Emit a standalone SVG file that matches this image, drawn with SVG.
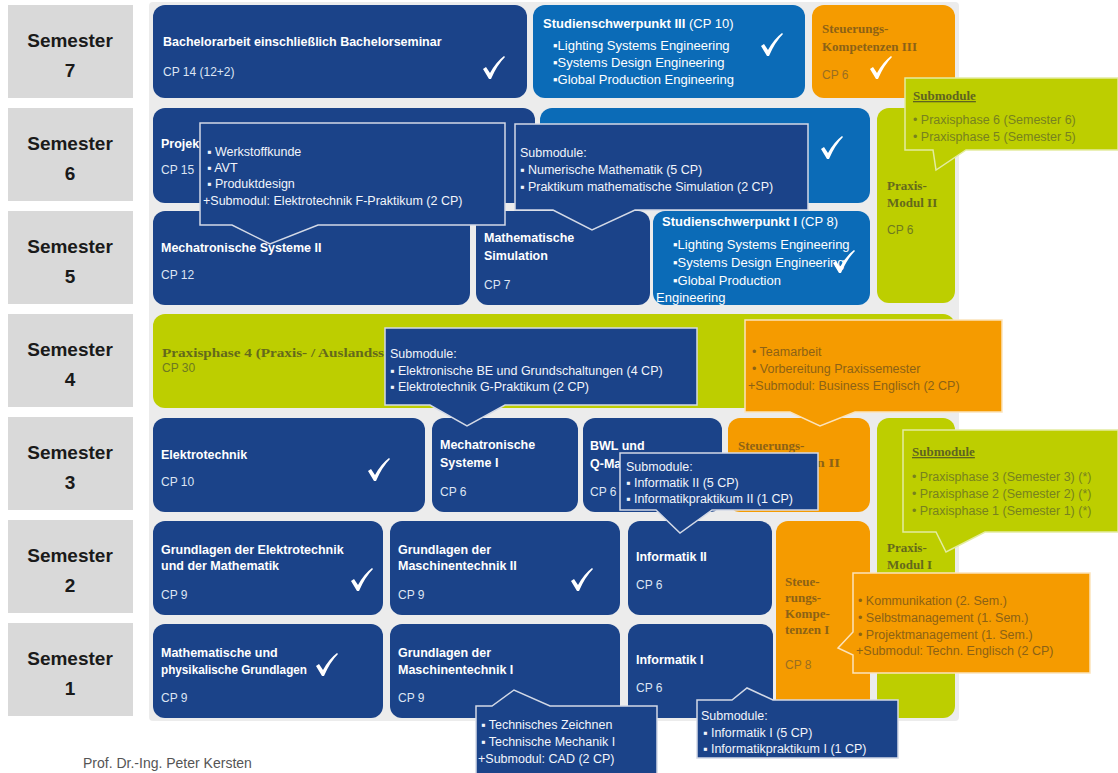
<svg xmlns="http://www.w3.org/2000/svg" width="1118" height="773" viewBox="0 0 1118 773">
<style>
.navy{fill:#1b4389}
.blue{fill:#0b6bb7}
.orange{fill:#f59b00}
.green{fill:#bdce00}
.lbl{fill:#d9d9d9}
.back{fill:#ececec}
.t{font:bold 12.5px 'Liberation Sans',Arial,sans-serif;fill:#ffffff}
.cp{font:12px 'Liberation Sans',Arial,sans-serif;fill:#dde5f3}
.sb{font:13px 'Liberation Sans',Arial,sans-serif;fill:#ffffff}
.st{font:bold 19px 'Liberation Sans',Arial,sans-serif;fill:#1a1a1a;text-anchor:middle}
.ot{font:bold 13px 'Liberation Serif','Times New Roman',serif;fill:#8c6216}
.ocp{font:12px 'Liberation Sans',Arial,sans-serif;fill:#9a6e22}
.gt{font:bold 13px 'Liberation Serif','Times New Roman',serif;fill:#64691c}
.gcp{font:12px 'Liberation Sans',Arial,sans-serif;fill:#6e7a20}
.ct{font:12.5px 'Liberation Sans',Arial,sans-serif;fill:#f2f5fb}
.oct{font:12.5px 'Liberation Sans',Arial,sans-serif;fill:#8c6216}
.gct{font:12.5px 'Liberation Sans',Arial,sans-serif;fill:#77821f}
.gh{font:bold 13px 'Liberation Serif','Times New Roman',serif;fill:#5f6420;text-decoration:underline}
.cn{fill:#1b4389;stroke:#d3d9e6;stroke-width:1.5}
.co{fill:#f59b00;stroke:#fbe3bb;stroke-width:1.5}
.cg{fill:#bdce00;stroke:#e3eca0;stroke-width:1.5}
.auth{font:14px 'Liberation Sans',Arial,sans-serif;fill:#555555}
</style>
<defs>
<path id="chk" d="M2,13 L5,11 L9,17 Q15,6 23,0 L24,1 Q16,9 10,23 L8,23 Z" fill="#ffffff"/>
</defs>
<rect width="1118" height="773" fill="#ffffff"/>
<rect class="back" x="149" y="2" width="810" height="719" rx="4"/>

<g id="semester-labels">
<g id="sem7"><rect class="lbl" x="8" y="5" width="125" height="93"/><text class="st" x="70" y="47">Semester</text><text class="st" x="70" y="77">7</text></g>
<g id="sem6"><rect class="lbl" x="8" y="108" width="125" height="93"/><text class="st" x="70" y="150">Semester</text><text class="st" x="70" y="180">6</text></g>
<g id="sem5"><rect class="lbl" x="8" y="211" width="125" height="93"/><text class="st" x="70" y="253">Semester</text><text class="st" x="70" y="283">5</text></g>
<g id="sem4"><rect class="lbl" x="8" y="314" width="125" height="93"/><text class="st" x="70" y="356">Semester</text><text class="st" x="70" y="386">4</text></g>
<g id="sem3"><rect class="lbl" x="8" y="417" width="125" height="93"/><text class="st" x="70" y="459">Semester</text><text class="st" x="70" y="489">3</text></g>
<g id="sem2"><rect class="lbl" x="8" y="520" width="125" height="93"/><text class="st" x="70" y="562">Semester</text><text class="st" x="70" y="592">2</text></g>
<g id="sem1"><rect class="lbl" x="8" y="623" width="125" height="93"/><text class="st" x="70" y="665">Semester</text><text class="st" x="70" y="695">1</text></g>
</g>

<g id="bachelorarbeit"><rect class="navy" x="153" y="5" width="374" height="93" rx="12"/><text class="t" x="163" y="46">Bachelorarbeit einschließlich Bachelorseminar</text><text class="cp" x="163" y="76">CP 14 (12+2)</text><use href="#chk" transform="translate(481,56)"/></g>
<g id="studienschwerpunkt3"><rect class="blue" x="533" y="5" width="272" height="93" rx="12"/><text class="t" x="543" y="28" style="font-size:13px">Studienschwerpunkt III <tspan style="font-weight:normal">(CP 10)</tspan></text><text class="sb" x="553" y="50">▪Lighting Systems Engineering</text><text class="sb" x="553" y="67">▪Systems Design Engineering</text><text class="sb" x="553" y="84">▪Global Production Engineering</text><use href="#chk" transform="translate(759,33)"/></g>
<g id="steuerung3"><rect class="orange" x="812" y="5" width="143" height="93" rx="12"/><text class="ot" x="822" y="33">Steuerungs-</text><text class="ot" x="822" y="51">Kompetenzen III</text><text class="ocp" x="822" y="79">CP 6</text><use href="#chk" transform="translate(868,56)"/></g>

<g id="projekt"><rect class="navy" x="153" y="108" width="382" height="95" rx="12"/><text class="t" x="161" y="148">Projekt</text><text class="cp" x="161" y="174">CP 15</text></g>
<g id="studienschwerpunkt2"><rect class="blue" x="540" y="108" width="330" height="95" rx="12"/><use href="#chk" transform="translate(819,136)"/></g>
<g id="praxismodul2"><rect class="green" x="877" y="108" width="78" height="195" rx="12"/><text class="gt" x="887" y="190">Praxis-</text><text class="gt" x="887" y="207">Modul II</text><text class="gcp" x="887" y="234">CP 6</text></g>

<g id="mechatronik2"><rect class="navy" x="153" y="211" width="317" height="94" rx="12"/><text class="t" x="161" y="252">Mechatronische Systeme II</text><text class="cp" x="161" y="279">CP 12</text></g>
<g id="mathsim"><rect class="navy" x="476" y="211" width="174" height="94" rx="12"/><text class="t" x="484" y="242">Mathematische</text><text class="t" x="484" y="260">Simulation</text><text class="cp" x="484" y="289">CP 7</text></g>
<g id="studienschwerpunkt1"><rect class="blue" x="653" y="211" width="217" height="94" rx="12"/><text class="t" x="662" y="226" style="font-size:13px">Studienschwerpunkt I <tspan style="font-weight:normal">(CP 8)</tspan></text><text class="sb" x="673" y="249">▪Lighting Systems Engineering</text><text class="sb" x="673" y="267">▪Systems Design Engineering</text><text class="sb" x="673" y="285">▪Global Production</text><text class="sb" x="656" y="302">Engineering</text><use href="#chk" transform="translate(831,250)"/></g>

<g id="praxisphase4"><rect class="green" x="153" y="314" width="802" height="94" rx="12"/><text class="gt" x="162" y="357" textLength="222" lengthAdjust="spacingAndGlyphs">Praxisphase 4 (Praxis- / Auslandss</text><text class="gcp" x="162" y="372">CP 30</text></g>

<g id="elektrotechnik"><rect class="navy" x="153" y="418" width="272" height="94" rx="12"/><text class="t" x="161" y="459">Elektrotechnik</text><text class="cp" x="161" y="486">CP 10</text><use href="#chk" transform="translate(366,458)"/></g>
<g id="mechatronik1"><rect class="navy" x="432" y="418" width="146" height="94" rx="12"/><text class="t" x="440" y="449">Mechatronische</text><text class="t" x="440" y="467">Systeme I</text><text class="cp" x="440" y="496">CP 6</text></g>
<g id="bwl"><rect class="navy" x="583" y="418" width="139" height="94" rx="12"/><text class="t" x="590" y="450">BWL und</text><text class="t" x="590" y="468">Q-Ma</text><text class="cp" x="590" y="496">CP 6</text></g>
<g id="steuerung2"><rect class="orange" x="728" y="418" width="142" height="94" rx="12"/><text class="ot" x="738" y="450">Steuerungs-</text><text class="ot" x="738" y="467" textLength="102" lengthAdjust="spacingAndGlyphs">Kompetenzen II</text></g>
<g id="praxismodul1"><rect class="green" x="877" y="418" width="78" height="300" rx="12"/><text class="gt" x="887" y="552">Praxis-</text><text class="gt" x="887" y="569">Modul I</text></g>

<g id="grundlagen-et-math"><rect class="navy" x="153" y="521" width="230" height="94" rx="12"/><text class="t" x="161" y="554">Grundlagen der Elektrotechnik</text><text class="t" x="161" y="570">und der Mathematik</text><text class="cp" x="161" y="599">CP 9</text><use href="#chk" transform="translate(349,568)"/></g>
<g id="grundlagen-mt2"><rect class="navy" x="390" y="521" width="230" height="94" rx="12"/><text class="t" x="398" y="554">Grundlagen der</text><text class="t" x="398" y="570">Maschinentechnik II</text><text class="cp" x="398" y="599">CP 9</text><use href="#chk" transform="translate(569,568)"/></g>
<g id="informatik2"><rect class="navy" x="628" y="521" width="144" height="94" rx="12"/><text class="t" x="636" y="561">Informatik II</text><text class="cp" x="636" y="589">CP 6</text></g>
<g id="steuerung1"><rect class="orange" x="776" y="521" width="94" height="197" rx="12"/><text class="ot" x="785" y="586">Steue-</text><text class="ot" x="785" y="602">rungs-</text><text class="ot" x="785" y="618">Kompe-</text><text class="ot" x="785" y="634">tenzen I</text><text class="ocp" x="785" y="669">CP 8</text></g>

<g id="math-phys"><rect class="navy" x="153" y="624" width="230" height="94" rx="12"/><text class="t" x="161" y="657">Mathematische und</text><text class="t" x="161" y="674" textLength="146" lengthAdjust="spacingAndGlyphs">physikalische Grundlagen</text><text class="cp" x="161" y="702">CP 9</text><use href="#chk" transform="translate(314,653)"/></g>
<g id="grundlagen-mt1"><rect class="navy" x="390" y="624" width="230" height="94" rx="12"/><text class="t" x="398" y="657">Grundlagen der</text><text class="t" x="398" y="674">Maschinentechnik I</text><text class="cp" x="398" y="702">CP 9</text></g>
<g id="informatik1"><rect class="navy" x="628" y="624" width="145" height="94" rx="12"/><text class="t" x="636" y="664">Informatik I</text><text class="cp" x="636" y="692">CP 6</text></g>

<g id="connectors"></g>

<g id="callout-projekt"><path class="cn" d="M200,123 H505 V225 H318 L270,244 L232,225 H200 Z"/><text class="ct" x="207" y="156">▪ Werkstoffkunde</text><text class="ct" x="207" y="172">▪ AVT</text><text class="ct" x="207" y="188">▪ Produktdesign</text><text class="ct" x="203" y="205">+Submodul: Elektrotechnik F-Praktikum (2 CP)</text></g>
<g id="callout-mathsim"><path class="cn" d="M515,124 H808 V210 H635 L592,230 L553,210 H515 Z"/><text class="ct" x="520" y="157">Submodule:</text><text class="ct" x="520" y="174">▪ Numerische Mathematik (5 CP)</text><text class="ct" x="520" y="191">▪ Praktikum mathematische Simulation (2 CP)</text></g>
<g id="callout-praxis2"><path class="cg" d="M905,78 H1118 V150 H966 L936,170 L933,150 H905 Z"/><text class="gh" x="913" y="100">Submodule</text><text class="gct" x="913" y="124">• Praxisphase 6 (Semester 6)</text><text class="gct" x="913" y="141">• Praxisphase 5 (Semester 5)</text></g>
<g id="callout-mechatronik1"><path class="cn" d="M385,328 H697 V405 H505 L467,426 L430,405 H385 Z"/><text class="ct" x="390" y="358">Submodule:</text><text class="ct" x="390" y="375">▪ Elektronische BE und Grundschaltungen (4 CP)</text><text class="ct" x="390" y="391">▪ Elektrotechnik G-Praktikum (2 CP)</text></g>
<g id="callout-steuerung2"><path class="co" d="M745,320 H1002 V412 H855 L820,426 L790,412 H745 Z"/><text class="oct" x="752" y="356">• Teamarbeit</text><text class="oct" x="752" y="373">• Vorbereitung Praxissemester</text><text class="oct" x="748" y="390">+Submodul: Business Englisch (2 CP)</text></g>
<g id="callout-informatik2"><path class="cn" d="M620,453 H818 V510 H712 L680,533 L656,510 H620 Z"/><text class="ct" x="626" y="471">Submodule:</text><text class="ct" x="626" y="487">▪ Informatik II (5 CP)</text><text class="ct" x="626" y="503">▪ Informatikpraktikum II (1 CP)</text></g>
<g id="callout-praxis1"><path class="cg" d="M903,430 H1118 V532 H985 L946,552 L936,532 H903 Z"/><text class="gh" x="912" y="456">Submodule</text><text class="gct" x="912" y="481">• Praxisphase 3 (Semester 3) (*)</text><text class="gct" x="912" y="498">• Praxisphase 2 (Semester 2) (*)</text><text class="gct" x="912" y="515">• Praxisphase 1 (Semester 1) (*)</text></g>
<g id="callout-steuerung1"><path class="co" d="M853,573 H1090 V673 H853 V655 L838,648 L853,632 Z"/><text class="oct" x="858" y="605">• Kommunikation (2. Sem.)</text><text class="oct" x="858" y="622">• Selbstmanagement (1. Sem.)</text><text class="oct" x="858" y="639">• Projektmanagement (1. Sem.)</text><text class="oct" x="856" y="655">+Submodul: Techn. Englisch (2 CP)</text></g>
<g id="callout-informatik1"><path class="cn" d="M697,700 H732 L747,688 L773,700 H898 V758 H697 Z"/><text class="ct" x="701" y="720">Submodule:</text><text class="ct" x="703" y="737">▪ Informatik I (5 CP)</text><text class="ct" x="703" y="753">▪ Informatikpraktikum I (1 CP)</text></g>
<g id="callout-mt1"><path class="cn" d="M476,706 H492 L514,690 L550,706 H657 V778 H476 Z"/><text class="ct" x="481" y="729">▪ Technisches Zeichnen</text><text class="ct" x="481" y="746">▪ Technische Mechanik I</text><text class="ct" x="478" y="763">+Submodul: CAD (2 CP)</text></g>

<text class="auth" x="83" y="768">Prof. Dr.-Ing. Peter Kersten</text>
</svg>
